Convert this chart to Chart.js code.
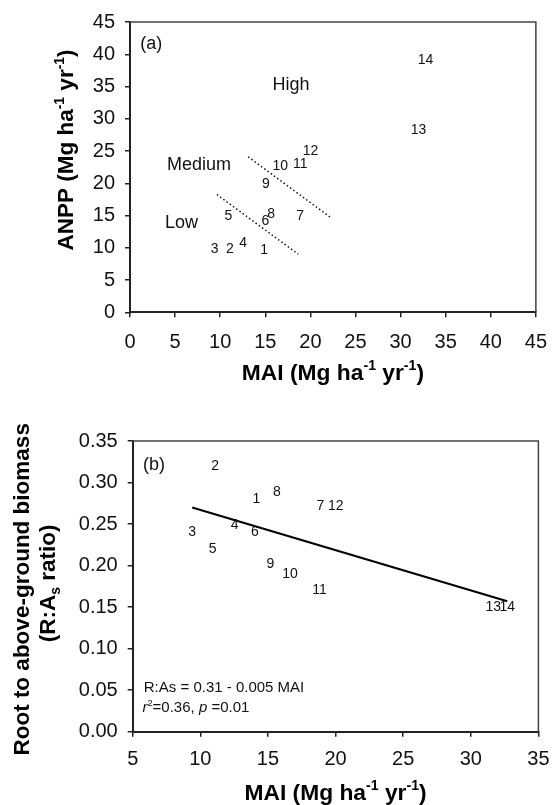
<!DOCTYPE html>
<html>
<head>
<meta charset="utf-8">
<script src="https://cdn.jsdelivr.net/npm/chart.js@4"></script>
<style>
  html, body { margin: 0; padding: 0; background: #fff; }
  #chartA { position: absolute; left: 0; top: 0; }
  #chartB { position: absolute; left: 0; top: 400px; }
</style>
</head>
<body>
<canvas id="chartA" width="560" height="400"></canvas>
<canvas id="chartB" width="560" height="405"></canvas>
<script>
// site numbers used as the point markers
let siteIds = ['1', '2', '3', '4', '5', '6', '7', '8', '9', '10', '11', '12', '13', '14'];

// panel (a): ANPP against MAI
let maiA  = [14.86, 11.07, 9.38, 12.55, 10.9, 15.0, 18.87, 15.66, 15.08, 16.67, 18.87, 20.02, 32.0, 32.76];
let anppA = [9.6, 9.77, 9.77, 10.74, 14.86, 14.2, 14.86, 15.2, 19.9, 22.6, 23.0, 25.05, 28.3, 39.04];

// dotted class boundaries in panel (a)
let lowLineMai  = [9.63, 18.65];
let lowLineAnpp = [18.26, 9.0];
let medLineMai  = [13.1, 22.19];
let medLineAnpp = [24.1, 14.75];

let classNames = ['Low', 'Medium', 'High'];
let classMai   = [5.7, 7.65, 17.86];
let classAnpp  = [13.9, 22.9, 35.2];

// panel (b): root to above-ground ratio against MAI
let maiB   = [14.15, 11.09, 9.39, 12.54, 10.91, 14.03, 18.88, 15.67, 15.19, 16.64, 18.81, 20.02, 31.67, 32.7];
let ratioB = [0.280, 0.320, 0.240, 0.249, 0.2196, 0.240, 0.271, 0.289, 0.2015, 0.190, 0.171, 0.271, 0.1505, 0.1505];

// regression line R:As = 0.31 - 0.005 MAI
let fitMai   = [9.4, 32.7];
let fitRatio = [0.270, 0.157];

// tick values
let xTicksA = [0, 5, 10, 15, 20, 25, 30, 35, 40, 45];
let yTicksA = [0, 5, 10, 15, 20, 25, 30, 35, 40, 45];
let xTicksB = [5, 10, 15, 20, 25, 30, 35];
let yTicksB = [0, 0.05, 0.10, 0.15, 0.20, 0.25, 0.30, 0.35];

let fontFam = '"Liberation Sans", Arial, Helvetica, sans-serif';

function toPoints(xs, ys) {
    return xs.map(function(v, i) { return { x: v, y: ys[i] } });
}

// draws text with superscript / subscript / italic parts
function drawRich(ctx, parts, x, y, size, weight, align) {
    let segs = parts.map(function(p) {
        let small = p[1] === 'sup' || p[1] === 'sub';
        let s = small ? size * 0.62 : size;
        let f = (p[1] === 'i' ? 'italic ' : '') + weight + ' ' + s + 'px ' + fontFam;
        ctx.font = f;
        let dy = 0;
        if (p[1] === 'sup') dy = -size * 0.42;
        if (p[1] === 'sub') dy = size * 0.22;
        return { t: p[0], f: f, w: ctx.measureText(p[0]).width, dy: dy };
    });
    let total = segs.reduce(function(a, s) { return a + s.w }, 0);
    let cx = align === 'center' ? x - total / 2 : x;
    ctx.textAlign = 'left';
    ctx.textBaseline = 'alphabetic';
    segs.forEach(function(s) {
        ctx.font = s.f;
        ctx.fillText(s.t, cx, y + s.dy);
        cx += s.w;
    });
}

function drawRotated(ctx, parts, x, y, size) {
    ctx.save();
    ctx.translate(x, y);
    ctx.rotate(-Math.PI / 2);
    drawRich(ctx, parts, 0, 0, size, 'bold', 'center');
    ctx.restore();
}

let maiTitle = [['MAI (Mg ha', ''], ['-1', 'sup'], [' yr', ''], ['-1', 'sup'], [')', '']];

function frame(chart) {
    let ctx = chart.ctx, a = chart.chartArea;
    ctx.save();
    ctx.strokeStyle = '#444';
    ctx.lineWidth = 1.5;
    ctx.beginPath();
    ctx.moveTo(a.left, a.top);
    ctx.lineTo(a.right, a.top);
    ctx.lineTo(a.right, a.bottom);
    ctx.stroke();
    ctx.restore();
}

function numberLabels(chart) {
    let ctx = chart.ctx;
    let meta = chart.getDatasetMeta(0);
    ctx.save();
    ctx.fillStyle = '#111';
    ctx.font = '14px ' + fontFam;
    ctx.textAlign = 'center';
    ctx.textBaseline = 'middle';
    meta.data.forEach(function(pt, i) {
        ctx.fillText(siteIds[i], pt.x, pt.y);
    });
    ctx.restore();
}

function axisCfg(ticks, min, max, tickPad, size, fmt) {
    return {
        type: 'linear',
        min: min,
        max: max,
        afterBuildTicks: function(scale) {
            scale.ticks = ticks.map(function(v) { return { value: v } });
        },
        afterFit: function(scale) {
            if (scale.isHorizontal()) scale.height = size; else scale.width = size;
        },
        grid: { display: true, drawOnChartArea: false, drawTicks: true, tickLength: 5, color: '#222', lineWidth: 1.5 },
        border: { display: true, color: '#222', width: 2 },
        ticks: {
            color: '#111',
            padding: tickPad,
            font: { family: fontFam, size: 20 },
            maxRotation: 0,
            autoSkip: false,
            callback: fmt || function(v) { return v }
        }
    };
}

let pluginA = {
    id: 'panelA',
    afterDatasetsDraw: function(chart) {
        let ctx = chart.ctx, x = chart.scales.x, y = chart.scales.y;
        frame(chart);
        numberLabels(chart);
        ctx.save();
        ctx.fillStyle = '#111';
        ctx.font = '18px ' + fontFam;
        ctx.textAlign = 'center';
        ctx.textBaseline = 'middle';
        classNames.forEach(function(n, i) {
            ctx.fillText(n, x.getPixelForValue(classMai[i]), y.getPixelForValue(classAnpp[i]));
        });
        ctx.fillText('(a)', x.getPixelForValue(2.35), y.getPixelForValue(41.6));
        ctx.fillStyle = '#000';
        drawRich(ctx, maiTitle, (chart.chartArea.left + chart.chartArea.right) / 2, 380, 22.8, 'bold', 'center');
        drawRotated(ctx, [['ANPP (Mg ha', ''], ['-1', 'sup'], [' yr', ''], ['-1', 'sup'], [')', '']], 73, 150, 22.5);
        ctx.restore();
    }
};

let pluginB = {
    id: 'panelB',
    afterDatasetsDraw: function(chart) {
        let ctx = chart.ctx, x = chart.scales.x, y = chart.scales.y;
        frame(chart);
        numberLabels(chart);
        ctx.save();
        ctx.fillStyle = '#111';
        ctx.font = '18px ' + fontFam;
        ctx.textAlign = 'center';
        ctx.textBaseline = 'middle';
        ctx.fillText('(b)', x.getPixelForValue(6.57), y.getPixelForValue(0.321));
        ctx.textBaseline = 'alphabetic';
        drawRich(ctx, [['R:As = 0.31 - 0.005 MAI', '']], x.getPixelForValue(5.82), y.getPixelForValue(0.0542) + 5.5, 15, 'normal', 'left');
        drawRich(ctx, [['r', 'i'], ['2', 'sup'], ['=0.36, ', ''], ['p', 'i'], [' =0.01', '']], x.getPixelForValue(5.72), y.getPixelForValue(0.030) + 5.5, 15, 'normal', 'left');
        ctx.fillStyle = '#000';
        drawRich(ctx, maiTitle, (chart.chartArea.left + chart.chartArea.right) / 2, 399.5, 22.8, 'bold', 'center');
        let cy = (chart.chartArea.top + chart.chartArea.bottom) / 2;
        drawRotated(ctx, [['Root to above-ground biomass', '']], 29, cy + 3, 22.5);
        drawRotated(ctx, [['(R:A', ''], ['s', 'sub'], [' ratio)', '']], 55, cy - 3, 22.5);
        ctx.restore();
    }
};

let dotted = { type: 'line', showLine: true, borderColor: '#111', borderWidth: 1.5, borderDash: [1.5, 2.5], pointRadius: 0, fill: false };

let chartA = new Chart(document.getElementById('chartA').getContext('2d'), {
    type: 'scatter',
    data: {
        datasets: [
            { data: toPoints(maiA, anppA), pointRadius: 0 },
            Object.assign({ data: toPoints(lowLineMai, lowLineAnpp) }, dotted),
            Object.assign({ data: toPoints(medLineMai, medLineAnpp) }, dotted)
        ]
    },
    options: {
        responsive: false,
        animation: false,
        layout: { padding: { left: 70, right: 13.3, top: 20.7, bottom: 42.7 } },
        plugins: { legend: { display: false }, tooltip: { enabled: false } },
        scales: {
            x: axisCfg(xTicksA, 0, 45, 13, 45),
            y: axisCfg(yTicksA, 0, 45, 10, 60)
        }
    },
    plugins: [pluginA]
});

let chartB = new Chart(document.getElementById('chartB').getContext('2d'), {
    type: 'scatter',
    data: {
        datasets: [
            { data: toPoints(maiB, ratioB), pointRadius: 0 },
            { type: 'line', data: toPoints(fitMai, fitRatio), showLine: true, borderColor: '#000', borderWidth: 2.2, pointRadius: 0, fill: false }
        ]
    },
    options: {
        responsive: false,
        animation: false,
        layout: { padding: { left: 72.7, right: 13.3, top: 41, bottom: 28.3 } },
        plugins: { legend: { display: false }, tooltip: { enabled: false } },
        scales: {
            x: axisCfg(xTicksB, 5, 35, 10.5, 45),
            y: axisCfg(yTicksB, 0, 0.35, 10, 60, function(v) { return v.toFixed(2) })
        }
    },
    plugins: [pluginB]
});
</script>
</body>
</html>
